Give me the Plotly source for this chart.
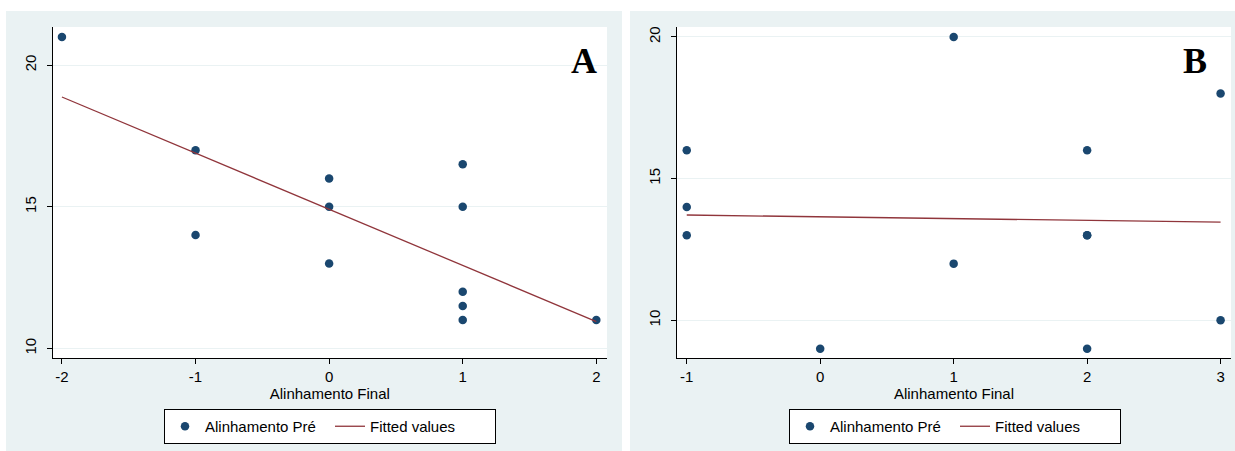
import numpy as np
import plotly.graph_objects as go

# ---- Data ----
a_x = [-2, -1, -1, 0, 0, 0, 1, 1, 1, 1, 1, 2]
a_y = [21, 17, 14, 16, 15, 13, 16.5, 15, 12, 11.5, 11, 11]

b_x = [-1, -1, -1, 0, 1, 1, 2, 2, 2, 2, 3, 3]
b_y = [16, 14, 13, 9, 20, 12, 16, 13, 13, 9, 18, 10]

a_xticks = [-2, -1, 0, 1, 2]
a_xticktext = ["-2", "-1", "0", "1", "2"]
b_xticks = [-1, 0, 1, 2, 3]
b_xticktext = ["-1", "0", "1", "2", "3"]
y_ticks = [10, 15, 20]

x_title = "Alinhamento Final"
scatter_name = "Alinhamento Pré"
fit_name = "Fitted values"
panel_labels = ["A", "B"]

# fitted values (OLS of the plotted data)
def fitted(xs, ys):
    s, c = np.polyfit(xs, ys, 1)
    xl = [min(xs), max(xs)]
    return xl, [s * v + c for v in xl]

a_fx, a_fy = fitted(a_x, a_y)
b_fx, b_fy = fitted(b_x, b_y)

W, H = 1235, 451
NAVY = "#1a476f"
MAROON = "#90353b"
BG = "#eaf2f3"
FONT = "Liberation Sans, Arial, sans-serif"

fig = go.Figure()
fig.add_trace(go.Scatter(x=a_x, y=a_y, mode="markers", name=scatter_name,
                         marker=dict(color=NAVY, size=8.5), xaxis="x", yaxis="y", legend="legend"))
fig.add_trace(go.Scatter(x=a_fx, y=a_fy, mode="lines", name=fit_name,
                         line=dict(color=MAROON, width=1.3), xaxis="x", yaxis="y", legend="legend"))
fig.add_trace(go.Scatter(x=b_x, y=b_y, mode="markers", name=scatter_name,
                         marker=dict(color=NAVY, size=8.5), xaxis="x2", yaxis="y2", legend="legend2"))
fig.add_trace(go.Scatter(x=b_fx, y=b_fy, mode="lines", name=fit_name,
                         line=dict(color=MAROON, width=1.3), xaxis="x2", yaxis="y2", legend="legend2"))

def px_x(v):
    return v / W

def px_y(v):
    return 1 - v / H

ydom = [px_y(358), px_y(27)]

common_x = dict(showline=True, linecolor="black", linewidth=1, ticks="outside", ticklen=5,
                tickcolor="black", showgrid=False, zeroline=False, mirror=False,
                tickfont=dict(size=15, color="black", family=FONT),
                title=dict(text=x_title, font=dict(size=15, color="black", family=FONT), standoff=4))
common_y = dict(showline=True, linecolor="black", linewidth=1, ticks="outside", ticklen=5,
                tickcolor="black", showgrid=True, gridcolor=BG, gridwidth=1, zeroline=False,
                tickangle=-90, tickvals=y_ticks, ticklabelstandoff=5,
                tickfont=dict(size=15, color="black", family=FONT))

legend_common = dict(orientation="h", yanchor="top", xanchor="left",
                     bgcolor="white", bordercolor="black", borderwidth=1,
                     font=dict(size=15, color="black", family=FONT),
                     entrywidth=120)

fig.update_layout(
    width=W, height=H,
    margin=dict(l=0, r=0, t=0, b=0),
    paper_bgcolor=BG,
    plot_bgcolor="white",
    font=dict(family=FONT, color="black"),
    xaxis=dict(domain=[px_x(52.6), px_x(607)], range=[-2.07, 2.08], tickvals=a_xticks,
               ticktext=a_xticktext, anchor="y", **common_x),
    yaxis=dict(domain=ydom, range=[9.66, 21.35], anchor="x", **common_y),
    xaxis2=dict(domain=[px_x(677), px_x(1231)], range=[-1.073, 3.078], tickvals=b_xticks,
                ticktext=b_xticktext, anchor="y2", **common_x),
    yaxis2=dict(domain=ydom, range=[8.67, 20.35], anchor="x2", **common_y),
    legend=dict(x=px_x(164), y=px_y(409), **legend_common),
    legend2=dict(x=px_x(789), y=px_y(409), **legend_common),
    shapes=[
        # white page margins and gap between the two panels
        dict(type="rect", xref="paper", yref="paper", x0=0, x1=1,
             y0=px_y(11), y1=1, fillcolor="white", line=dict(width=0), layer="below"),
        dict(type="rect", xref="paper", yref="paper", x0=0, x1=px_x(6),
             y0=0, y1=1, fillcolor="white", line=dict(width=0), layer="below"),
        dict(type="rect", xref="paper", yref="paper", x0=px_x(622), x1=px_x(630),
             y0=0, y1=1, fillcolor="white", line=dict(width=0), layer="below"),
    ],
    annotations=[
        dict(text="<b>%s</b>" % panel_labels[0], xref="paper", yref="paper",
             x=px_x(584), y=px_y(61), showarrow=False, xanchor="center", yanchor="middle",
             font=dict(size=36, family="Liberation Serif, Times New Roman, serif", color="black")),
        dict(text="<b>%s</b>" % panel_labels[1], xref="paper", yref="paper",
             x=px_x(1195), y=px_y(61), showarrow=False, xanchor="center", yanchor="middle",
             font=dict(size=36, family="Liberation Serif, Times New Roman, serif", color="black")),
    ],
)

fig.write_html("out.html", config={"displayModeBar": False},
               post_script="document.body.style.margin='0';document.body.style.overflow='hidden';")
